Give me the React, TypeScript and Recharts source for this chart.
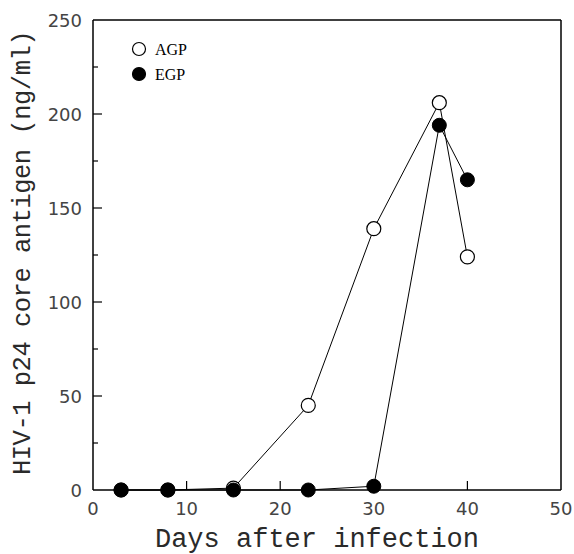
import React from "react";
import {
  Line,
  LineChart,
  XAxis,
  YAxis,
  Legend,
  Label,
  ReferenceLine,
} from "recharts";

// days after infection
const days = [3, 8, 15, 23, 30, 37, 40];
// HIV-1 p24 core antigen (ng/ml)
const agp = [0, 0, 1, 45, 139, 206, 124];
const egp = [0, 0, 0, 0, 2, 194, 165];

const seriesNames = ["AGP", "EGP"];
const xTicks = [0, 10, 20, 30, 40, 50];
const yTicks = [0, 25, 50, 75, 100, 125, 150, 175, 200, 225, 250];

const data = days.map((d, i) => ({ day: d, agp: agp[i], egp: egp[i] }));

const tickFont = {
  fontFamily: "'DejaVu Sans', sans-serif",
  fontSize: 18,
  fill: "#444",
};

const titleFont = {
  fontFamily: "'Liberation Mono', monospace",
  fill: "#2a2a2a",
};

function XTick(props: any) {
  const { x, y, payload } = props;
  const v = payload.value;
  const inner = v > 0 && v < 50;
  return (
    <g>
      {inner && <line x1={x} y1={y} x2={x} y2={y - 9} stroke="#000" strokeWidth={1.2} />}
      <text x={x} y={y + 25} textAnchor="middle" {...tickFont}>
        {v}
      </text>
    </g>
  );
}

function YTick(props: any) {
  const { x, y, payload } = props;
  const v = payload.value;
  const major = v % 50 === 0;
  const inner = v > 0 && v < 250;
  return (
    <g>
      {inner && (
        <line x1={x} y1={y} x2={x + (major ? 9 : 5)} y2={y} stroke="#000" strokeWidth={1.2} />
      )}
      {major && (
        <text x={x - 11} y={y} textAnchor="end" dominantBaseline="central" {...tickFont}>
          {v}
        </text>
      )}
    </g>
  );
}

function LegendBox() {
  return (
    <svg width={80} height={46}>
      {seriesNames.map((name, i) => (
        <g key={name}>
          <circle
            cx={9}
            cy={9 + i * 25}
            r={6.5}
            fill={i === 0 ? "#fff" : "#000"}
            stroke="#000"
            strokeWidth={1.2}
          />
          <text
            x={25}
            y={15 + i * 25}
            fontFamily="'Liberation Serif', serif"
            fontSize={16}
            fill="#000"
          >
            {name}
          </text>
        </g>
      ))}
    </svg>
  );
}

export default function App() {
  return (
    <div style={{ position: "absolute", left: 0, top: 0, width: 574, height: 554, background: "#fff" }}>
      <LineChart
        width={574}
        height={554}
        data={data}
        margin={{ top: 20, right: 13, bottom: 0, left: 0 }}
      >
        <XAxis
          dataKey="day"
          type="number"
          domain={[0, 50]}
          ticks={xTicks}
          interval={0}
          height={64}
          tickSize={0}
          tickMargin={0}
          tickLine={false}
          tick={<XTick />}
          axisLine={{ stroke: "#000", strokeWidth: 1.5 }}
        >
          <Label
            content={() => (
              <text x={317} y={547} textAnchor="middle" fontSize={27} {...titleFont}>
                Days after infection
              </text>
            )}
          />
        </XAxis>
        <YAxis
          type="number"
          domain={[0, 250]}
          ticks={yTicks}
          interval={0}
          width={93}
          tickSize={0}
          tickMargin={0}
          tickLine={false}
          tick={<YTick />}
          axisLine={{ stroke: "#000", strokeWidth: 1.5 }}
        >
          <Label
            content={() => (
              <text
                x={23}
                y={253}
                transform="rotate(-90 23 253)"
                textAnchor="middle"
                dominantBaseline="central"
                fontSize={25.5}
                letterSpacing={-0.5}
                {...titleFont}
              >
                HIV-1 p24 core antigen (ng/ml)
              </text>
            )}
          />
        </YAxis>
        {/* frame: top and right edges of the plot box */}
        <ReferenceLine y={250} stroke="#000" strokeWidth={1.5} />
        <ReferenceLine x={50} stroke="#000" strokeWidth={1.5} />
        <Legend
          layout="vertical"
          align="center"
          verticalAlign="middle"
          width={80}
          wrapperStyle={{ top: 40, left: 130 }}
          content={() => <LegendBox />}
        />
        <Line
          type="linear"
          dataKey="agp"
          name={seriesNames[0]}
          stroke="#000"
          strokeWidth={1}
          dot={{ r: 7, fill: "#fff", stroke: "#000", strokeWidth: 1.2 }}
          activeDot={false}
          isAnimationActive={false}
        />
        <Line
          type="linear"
          dataKey="egp"
          name={seriesNames[1]}
          stroke="#000"
          strokeWidth={1}
          dot={{ r: 7, fill: "#000", stroke: "#000", strokeWidth: 1 }}
          activeDot={false}
          isAnimationActive={false}
        />
      </LineChart>
    </div>
  );
}
